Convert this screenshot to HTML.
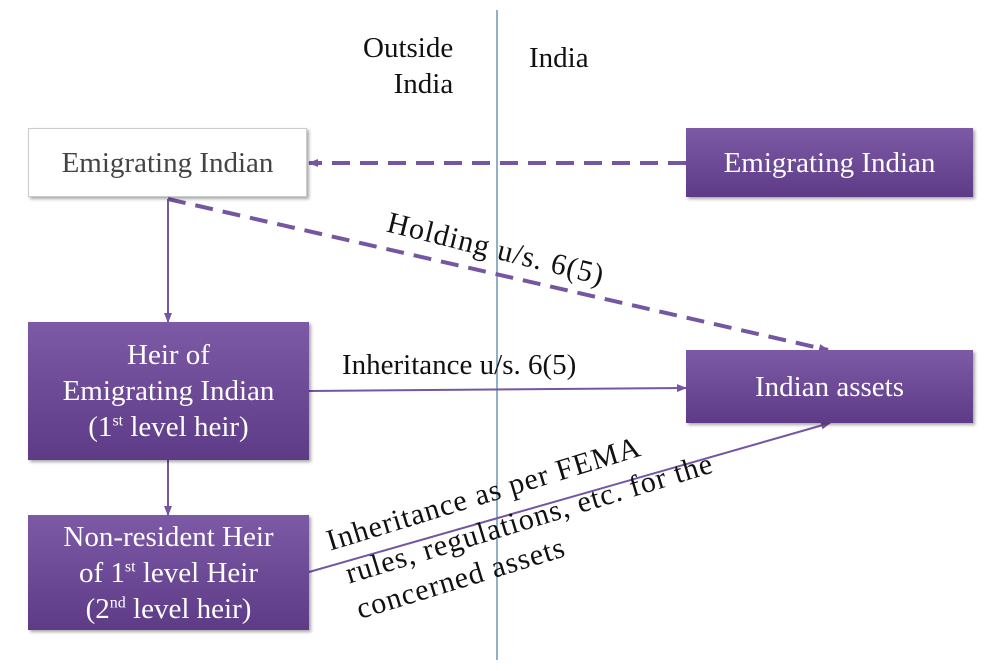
<!DOCTYPE html>
<html><head><style>
body{margin:0;width:998px;height:671px;background:#fff;position:relative;overflow:hidden;font-family:"Liberation Serif",serif;}
.b{position:absolute;box-sizing:border-box;display:flex;align-items:center;justify-content:center;text-align:center;font-size:29px;line-height:36px;color:#fff;background:linear-gradient(#7d5aa6,#5e3b86);box-shadow:2px 2px 3px rgba(0,0,0,.35);}
.t{position:absolute;font-size:29px;color:#111;white-space:nowrap;line-height:36px;}
sup{font-size:16px;line-height:0;vertical-align:super}
</style></head><body>
<svg width="998" height="671" style="position:absolute;left:0;top:0">
<defs><marker id="a" markerWidth="10" markerHeight="8" refX="9" refY="4" orient="auto" markerUnits="userSpaceOnUse"><path d="M0,0L10,4L0,8z" fill="#7457a0"/></marker></defs>
<line x1="497" y1="10" x2="497" y2="660" stroke="#4a7aa8" stroke-width="1.2"/>
<line x1="686" y1="163" x2="309" y2="163" stroke="#7457a0" stroke-width="4" stroke-dasharray="18,10" marker-end="url(#a)"/>
<line x1="168" y1="199" x2="828" y2="350" stroke="#7457a0" stroke-width="4" stroke-dasharray="18,10" marker-end="url(#a)"/>
<line x1="168" y1="199" x2="168" y2="322" stroke="#7457a0" stroke-width="2" marker-end="url(#a)"/>
<line x1="168" y1="460" x2="168" y2="515" stroke="#7457a0" stroke-width="2" marker-end="url(#a)"/>
<line x1="309" y1="391" x2="686" y2="388" stroke="#7457a0" stroke-width="2" marker-end="url(#a)"/>
<line x1="309" y1="572" x2="830" y2="423" stroke="#7457a0" stroke-width="2" marker-end="url(#a)"/>
</svg>
<div class="b" style="left:28px;top:128px;width:279px;height:69px;background:#fff;color:#444;border:1px solid #ccc"><div>Emigrating Indian</div></div>
<div class="b" style="left:686px;top:128px;width:287px;height:69px"><div>Emigrating Indian</div></div>
<div class="b" style="left:28px;top:322px;width:281px;height:138px"><div>Heir of<br>Emigrating Indian<br>(1<sup>st</sup> level heir)</div></div>
<div class="b" style="left:28px;top:515px;width:281px;height:115px"><div>Non-resident Heir<br>of 1<sup>st</sup> level Heir<br>(2<sup>nd</sup> level heir)</div></div>
<div class="b" style="left:686px;top:350px;width:287px;height:73px"><div>Indian assets</div></div>
<div class="t" style="left:363px;top:30px;text-align:right">Outside<br>&nbsp;&nbsp;&nbsp;India</div>
<div class="t" style="left:529px;top:40px">India</div>
<div class="t" style="left:342px;top:347px">Inheritance u/s. 6(5)</div>
<div class="t" style="left:392px;top:205px;transform:rotate(14deg);transform-origin:0 0;font-size:30px;letter-spacing:1px">Holding u/s. 6(5)</div>
<div class="t" style="left:322px;top:524px;transform:rotate(-17deg);transform-origin:0 0;line-height:37px;font-size:30px;letter-spacing:1px">Inheritance as per FEMA<br>&nbsp;rules, regulations, etc. for the<br>&nbsp;concerned assets</div>
</body></html>
